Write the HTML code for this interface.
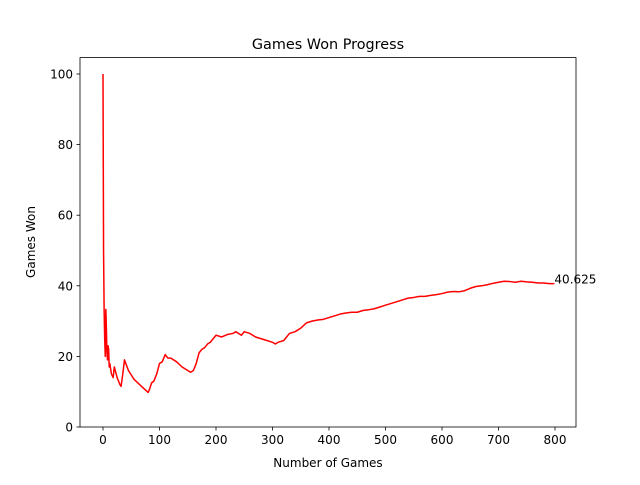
<!DOCTYPE html>
<html><head><meta charset="utf-8"><style>
body{margin:0;background:#fff}
svg text{font-family:"DejaVu Sans","Liberation Sans",sans-serif;fill:#000}
</style></head><body>
<svg id="chart" width="640" height="480" viewBox="0 0 640 480" xmlns="http://www.w3.org/2000/svg">
<rect width="640" height="480" fill="#fff"/>
<text x="328" y="49" font-size="14.4" text-anchor="middle">Games Won Progress</text>
<text x="328" y="467" font-size="12" text-anchor="middle">Number of Games</text>
<text x="0" y="0" font-size="12" text-anchor="middle" transform="translate(35,242) rotate(-90)">Games Won</text>
<g id="ticks"></g>
<path id="line" fill="none" stroke="#ff0000" stroke-width="1.5" stroke-linejoin="round"/>
<text id="ann" font-size="12"></text>
<rect x="80" y="57.6" width="496" height="369.4" fill="none" stroke="#000" stroke-width="0.8"/>
</svg>
<script>
const xs=[0,1,2,3,4,5,6,7,8,9,10,11,12,15,18,20,25,30,32,35,38,45,55,65,75,80,83,86,90,95,100,105,110,115,120,130,140,150,155,160,165,170,175,180,185,190,195,200,210,220,230,235,240,245,250,260,270,280,290,300,305,310,320,330,340,350,360,370,380,390,400,410,420,430,440,450,460,470,480,490,500,510,520,530,540,550,560,570,580,590,600,610,620,630,640,650,660,670,680,690,700,710,720,730,740,750,760,770,780,790,799];
const ys=[100,50,33,25,20,33.3,28,21,19,23,22,17,18,15,14,17,14,12,11.5,15,19,16,13.5,12,10.5,9.8,11,12.5,13,15,18,18.5,20.5,19.5,19.5,18.5,17,16,15.5,16,18,21,22,22.5,23.5,24,25,26,25.5,26.2,26.5,27,26.5,26,27,26.5,25.5,25,24.5,24,23.5,24,24.5,26.5,27,28,29.5,30,30.3,30.5,31,31.5,32,32.3,32.5,32.5,33,33.2,33.5,34,34.5,35,35.5,36,36.5,36.7,37,37,37.3,37.5,37.8,38.2,38.4,38.3,38.6,39.3,39.8,40,40.3,40.7,41,41.3,41.2,41,41.3,41.1,41,40.8,40.8,40.6,40.625];
const xTicks=[0,100,200,300,400,500,600,700,800];
const yTicks=[0,20,40,60,80,100];
const finalLabel="40.625";
const X=v=>103+v*(555-103)/800;
const Y=v=>427-v*3.53;
const NS="http://www.w3.org/2000/svg";
const g=document.getElementById('ticks');
function mk(t,a){const e=document.createElementNS(NS,t);for(const k in a)e.setAttribute(k,a[k]);g.appendChild(e);return e;}
xTicks.forEach(v=>{
 const l=mk('line',{x1:X(v),x2:X(v),y1:427,y2:430.5,stroke:'#000','stroke-width':0.8});
 
 
 const t=mk('text',{x:X(v),y:444,'font-size':12,'text-anchor':'middle'});t.textContent=v;
 
 
});
yTicks.forEach(v=>{
 const l=mk('line',{x1:76.5,x2:80,y1:Y(v),y2:Y(v),stroke:'#000','stroke-width':0.8});
 
 
 const t=mk('text',{x:73,y:Y(v)+4.5,'font-size':12,'text-anchor':'end'});t.textContent=v;
 
 
});
document.getElementById('line').setAttribute('d',xs.map((x,i)=>(i?'L':'M')+X(x).toFixed(2)+','+Y(ys[i]).toFixed(2)).join(''));
const a=document.getElementById('ann');
a.setAttribute('x',X(xs[xs.length-1]));a.setAttribute('y',Y(ys[ys.length-1]));a.textContent=finalLabel;
</script>
</body></html>
